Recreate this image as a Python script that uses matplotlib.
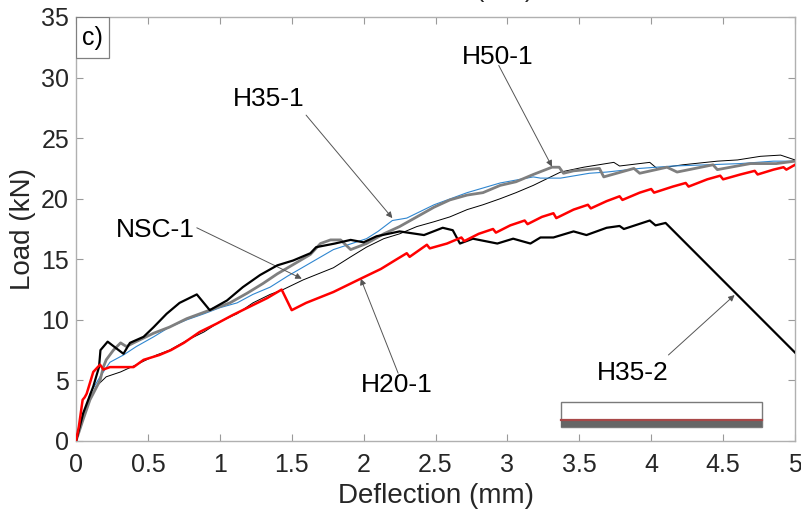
import matplotlib
matplotlib.use('Agg')
from matplotlib import pyplot as plt
from matplotlib.patches import Rectangle

plt.rcParams['font.family'] = ['Liberation Sans', 'DejaVu Sans']

# H20-1 (red)
h20_x = [0, 0.02, 0.046, 0.06, 0.074, 0.097, 0.12, 0.167, 0.19, 0.236, 0.30, 0.40, 0.47, 0.58, 0.66, 0.75,
         0.86, 0.98, 1.09, 1.21, 1.33, 1.43, 1.50, 1.60, 1.79, 1.98, 2.12, 2.23, 2.30, 2.32, 2.44, 2.46,
         2.58, 2.68, 2.70, 2.80, 2.90, 2.92, 3.02, 3.12, 3.14, 3.24, 3.32, 3.34, 3.46, 3.56, 3.58, 3.69,
         3.78, 3.80, 3.92, 4.00, 4.02, 4.15, 4.24, 4.26, 4.39, 4.48, 4.50, 4.62, 4.72, 4.74, 4.85, 4.92,
         4.94, 5.0]
h20_y = [0, 1.2, 3.4, 3.6, 3.9, 4.8, 5.7, 6.3, 5.9, 6.1, 6.1, 6.1, 6.7, 7.1, 7.5, 8.1,
         9.0, 9.7, 10.4, 11.1, 11.8, 12.5, 10.8, 11.4, 12.3, 13.4, 14.2, 15.0, 15.5, 15.2, 16.2, 15.9,
         16.3, 16.8, 16.5, 17.1, 17.5, 17.2, 17.8, 18.2, 17.9, 18.5, 18.8, 18.4, 19.1, 19.5, 19.2, 19.8,
         20.2, 19.9, 20.5, 20.8, 20.5, 21.0, 21.3, 21.0, 21.6, 21.9, 21.6, 22.0, 22.3, 22.0, 22.4, 22.6,
         22.4, 22.8]

# H35-2 (thick black)
h352_x = [0, 0.05, 0.12, 0.16, 0.17, 0.22, 0.28, 0.33, 0.375, 0.47, 0.54, 0.63, 0.72, 0.84, 0.93, 1.05,
          1.16, 1.28, 1.40, 1.51, 1.63, 1.67, 1.80, 1.91, 2.0, 2.09, 2.25, 2.42, 2.55, 2.62, 2.67, 2.76,
          2.93, 3.04, 3.16, 3.23, 3.32, 3.46, 3.55, 3.69, 3.78, 3.81, 3.99, 4.03, 4.10, 5.0]
h352_y = [0, 2.3, 4.5, 6.1, 7.5, 8.2, 7.65, 7.2, 8.1, 8.6, 9.4, 10.5, 11.4, 12.1, 10.8, 11.6,
          12.7, 13.7, 14.5, 14.9, 15.5, 16.0, 16.3, 16.6, 16.4, 16.9, 17.3, 17.0, 17.6, 17.4, 16.3, 16.7,
          16.3, 16.7, 16.3, 16.8, 16.8, 17.3, 17.0, 17.6, 17.75, 17.5, 18.2, 17.8, 18.0, 7.3]

# H35-1 (blue)
h351_x = [0, 0.05, 0.097, 0.167, 0.236, 0.33, 0.42, 0.54, 0.65, 0.77, 0.89, 1.0, 1.12, 1.23, 1.35, 1.47,
          1.63, 1.79, 2.02, 2.10, 2.20, 2.30, 2.49, 2.72, 2.95, 3.18, 3.23, 3.37, 3.57, 3.69, 3.92, 4.15,
          4.39, 4.62, 4.85, 5.0]
h351_y = [0, 2.0, 3.9, 5.3, 6.5, 7.1, 7.8, 8.6, 9.4, 10.0, 10.5, 11.0, 11.4, 12.1, 12.7, 13.6,
          14.7, 15.8, 16.7, 17.3, 18.2, 18.4, 19.5, 20.5, 21.3, 21.8, 21.7, 21.7, 22.1, 22.2, 22.5, 22.7,
          22.8, 22.9, 23.1, 23.1]

# H50-1 (thick grey)
h50_x = [0, 0.05, 0.097, 0.167, 0.19, 0.21, 0.26, 0.31, 0.35, 0.40, 0.54, 0.65, 0.77, 0.93, 1.07, 1.19,
         1.30, 1.40, 1.53, 1.63, 1.70, 1.77, 1.84, 1.91, 2.02, 2.14, 2.25, 2.37, 2.49, 2.60, 2.72, 2.83,
         2.95, 3.06, 3.18, 3.31, 3.36, 3.39, 3.46, 3.64, 3.67, 3.88, 3.92, 4.11, 4.18, 4.43, 4.46, 4.69,
         4.87, 5.0]
h50_y = [0, 1.8, 3.4, 5.0, 6.1, 6.7, 7.5, 8.1, 7.8, 8.1, 8.9, 9.4, 10.1, 10.8, 11.4, 12.2,
         13.0, 13.8, 14.7, 15.4, 16.3, 16.6, 16.6, 15.8, 16.3, 17.1, 17.7, 18.5, 19.3, 19.9, 20.3, 20.5,
         21.1, 21.4, 22.0, 22.6, 22.6, 22.1, 22.3, 22.5, 21.8, 22.5, 22.1, 22.6, 22.2, 22.8, 22.4, 22.9,
         22.9, 23.1]

# NSC-1 (thin black)
nsc_x = [0, 0.074, 0.14, 0.21, 0.31, 0.42, 0.56, 0.65, 0.77, 0.89, 1.0, 1.12, 1.23, 1.35, 1.44, 1.58,
         1.79, 1.91, 2.02, 2.14, 2.25, 2.37, 2.49, 2.60, 2.72, 2.83, 2.95, 3.06, 3.18, 3.37, 3.53, 3.74,
         3.78, 3.99, 4.04, 4.22, 4.46, 4.60, 4.76, 4.90, 5.0]
nsc_y = [0, 2.8, 4.5, 5.3, 5.7, 6.3, 7.1, 7.5, 8.3, 9.0, 9.85, 10.5, 11.4, 12.1, 12.5, 13.3,
         14.3, 15.2, 16.0, 16.7, 17.1, 17.7, 18.1, 18.5, 19.1, 19.5, 20.0, 20.5, 21.1, 22.2, 22.6, 23.0,
         22.7, 23.0, 22.5, 22.8, 23.1, 23.2, 23.5, 23.6, 23.2]

# annotations: label, text position, arrow tail, arrow tip
ann_labels = ['H35-1', 'NSC-1', 'H50-1', 'H20-1', 'H35-2']
ann_text = [(1.34, 28.2), (0.55, 17.4), (2.93, 31.7), (2.23, 4.6), (3.87, 5.6)]
ann_tail = [(1.60, 26.9), (0.84, 17.6), (2.94, 31.0), (2.24, 5.6), (4.12, 7.1)]
ann_tip = [(2.20, 18.4), (1.57, 13.4), (3.31, 22.65), (1.98, 13.4), (4.58, 12.05)]

fig = plt.figure(figsize=(8.01, 5.23), dpi=100)
ax = fig.add_axes([0.0949, 0.1568, 0.8976, 0.8107])

ax.plot(nsc_x, nsc_y, color='black', lw=0.7, zorder=3)
ax.plot(h351_x, h351_y, color='#2f86d0', lw=0.8, zorder=3)
ax.plot(h50_x, h50_y, color='#7f7f7f', lw=2.0, zorder=3)
ax.plot(h352_x, h352_y, color='black', lw=1.6, zorder=4)
ax.plot(h20_x, h20_y, color='#ff0000', lw=1.8, zorder=5)

for lab, t, tail, tip in zip(ann_labels, ann_text, ann_tail, ann_tip):
    ax.text(t[0], t[1], lab, fontsize=19, ha='center', va='center', color='black')
    ax.annotate('', xy=tip, xytext=tail,
                arrowprops=dict(arrowstyle='-|>', color='#555555', lw=0.7,
                                mutation_scale=9, shrinkA=0, shrinkB=0))

# beam section inset
ax.add_patch(Rectangle((3.37, 1.15), 1.40, 2.05, facecolor='white', edgecolor='#7a7a7a', lw=1.0, zorder=6))
ax.add_patch(Rectangle((3.37, 1.15), 1.40, 0.5, facecolor='#666666', edgecolor='none', zorder=7))
ax.plot([3.37, 4.77], [1.70, 1.70], color='#a84848', lw=1.6, zorder=8)

ax.set_xlim(0, 5)
ax.set_ylim(0, 35)
ax.set_xticks([0, 0.5, 1, 1.5, 2, 2.5, 3, 3.5, 4, 4.5, 5])
ax.set_xticklabels(['0', '0.5', '1', '1.5', '2', '2.5', '3', '3.5', '4', '4.5', '5'])
ax.set_yticks(range(0, 36, 5))
ax.tick_params(direction='in', length=5, width=0.8, color='#9a9a9a', labelsize=18,
               labelcolor='#262626', top=True, right=True)
ax.tick_params(axis='x', pad=9)
ax.tick_params(axis='y', pad=5)
for s in ax.spines.values():
    s.set_color('#b0b0b0')
    s.set_linewidth(1.0)

ax.set_xlabel('Deflection (mm)', fontsize=20, color='#262626', labelpad=4)
ax.set_ylabel('Load (kN)', fontsize=20, color='#262626', labelpad=4)

# panel label box in the top-left corner
ax.add_patch(Rectangle((0, 0.9033), 0.0459, 0.0967, transform=ax.transAxes, facecolor='white',
                       edgecolor='#808080', lw=0.9, zorder=9))
ax.text(0.023, 0.951, 'c)', transform=ax.transAxes, fontsize=18, ha='center', va='center', zorder=10)

fig.text(0.63, 1.006, '(mm)', fontsize=18, ha='center', va='baseline', color='#262626')

fig.savefig('out.png', dpi=100)
plt.close(fig)
